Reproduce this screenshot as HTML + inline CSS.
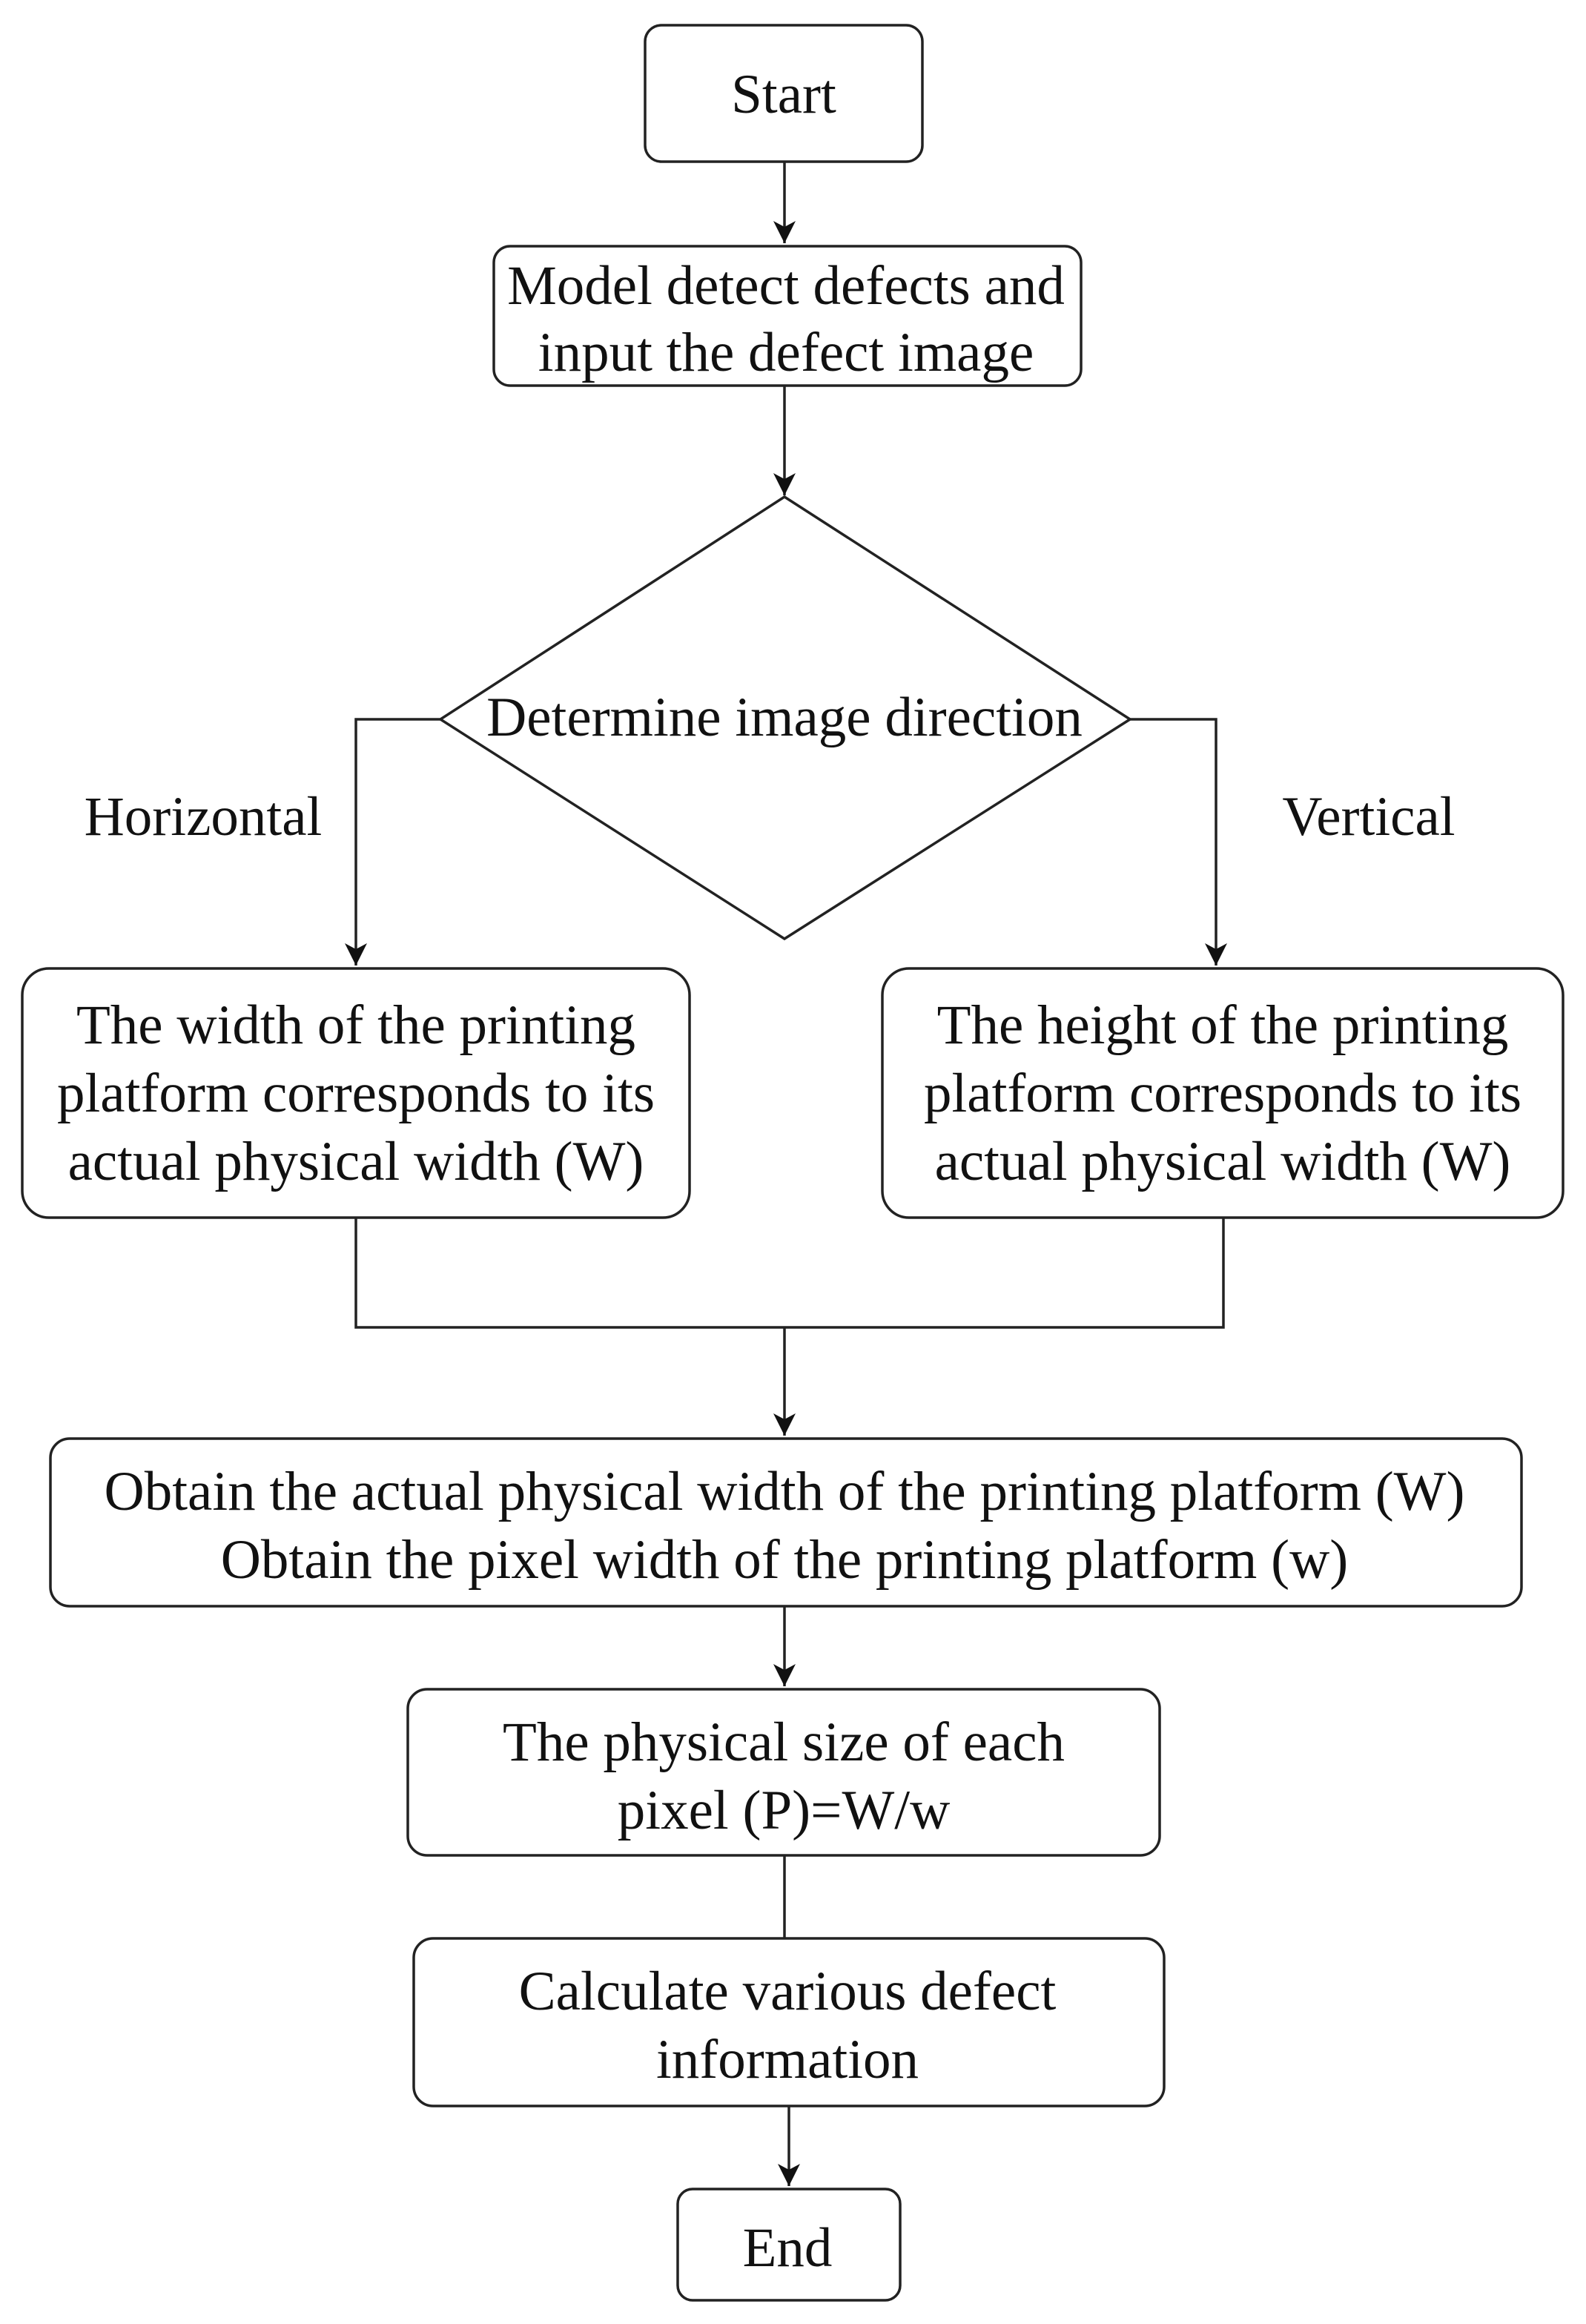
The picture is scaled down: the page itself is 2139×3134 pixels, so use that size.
<!DOCTYPE html>
<html><head><meta charset="utf-8"><style>
html,body{margin:0;padding:0;background:#fff;}
svg{display:block;}
text{font-family:"Liberation Serif",serif;font-size:75px;fill:#111;text-anchor:middle;}
.b{fill:#fff;stroke:#222;stroke-width:3.5;}
.l{fill:none;stroke:#222;stroke-width:3.5;}
</style></head><body>
<svg width="2139" height="3134" viewBox="0 0 2139 3134" xmlns="http://www.w3.org/2000/svg">
<defs>
<marker id="m" markerWidth="30" markerHeight="34" refX="30" refY="15" orient="auto" markerUnits="userSpaceOnUse"><path d="M0,0 L30,15 L0,30 L8,15 Z" fill="#111"/></marker></defs>

<rect class="b" x="870" y="34" width="374" height="184" rx="22"/>
<text x="1057" y="152">Start</text>
<line class="l" x1="1058" y1="218" x2="1058" y2="328" marker-end="url(#m)"/>

<rect class="b" x="666" y="332" width="792" height="188" rx="22"/>
<text x="1060" y="410">Model detect defects and</text>
<text x="1060" y="500">input the defect image</text>
<line class="l" x1="1058" y1="520" x2="1058" y2="668" marker-end="url(#m)"/>

<polygon class="b" points="1058,670 1524,970 1058,1266 594,970"/>
<text x="1058" y="992">Determine  image direction</text>

<polyline class="l" points="594,970 480,970 480,1302" marker-end="url(#m)"/>
<polyline class="l" points="1524,970 1640,970 1640,1302" marker-end="url(#m)"/>
<text x="274" y="1126">Horizontal</text>
<text x="1846" y="1126">Vertical</text>

<rect class="b" x="30" y="1306" width="900" height="336" rx="36"/>
<text x="480" y="1407">The width of the printing</text>
<text x="480" y="1499">platform corresponds to its</text>
<text x="480" y="1591">actual physical width (W)</text>

<rect class="b" x="1190" y="1306" width="918" height="336" rx="36"/>
<text x="1649" y="1407">The height of the printing</text>
<text x="1649" y="1499">platform corresponds to its</text>
<text x="1649" y="1591">actual physical width (W)</text>

<polyline class="l" points="480,1642 480,1790 1650,1790 1650,1642"/>
<line class="l" x1="1058" y1="1790" x2="1058" y2="1936" marker-end="url(#m)"/>

<rect class="b" x="68" y="1940" width="1984" height="226" rx="26"/>
<text x="1058" y="2036">Obtain the actual physical width of the printing platform (W)</text>
<text x="1058" y="2128">Obtain the pixel width of the printing platform (w)</text>
<line class="l" x1="1058" y1="2166" x2="1058" y2="2274" marker-end="url(#m)"/>

<rect class="b" x="550" y="2278" width="1014" height="224" rx="26"/>
<text x="1057" y="2374">The physical size of each</text>
<text x="1057" y="2466">pixel (P)=W/w</text>
<line class="l" x1="1058" y1="2502" x2="1058" y2="2614"/>

<rect class="b" x="558" y="2614" width="1012" height="226" rx="26"/>
<text x="1062" y="2710">Calculate various defect</text>
<text x="1062" y="2802">information</text>
<line class="l" x1="1064" y1="2840" x2="1064" y2="2948" marker-end="url(#m)"/>

<rect class="b" x="914" y="2952" width="300" height="150" rx="20"/>
<text x="1062" y="3056">End</text>
</svg>
</body></html>
